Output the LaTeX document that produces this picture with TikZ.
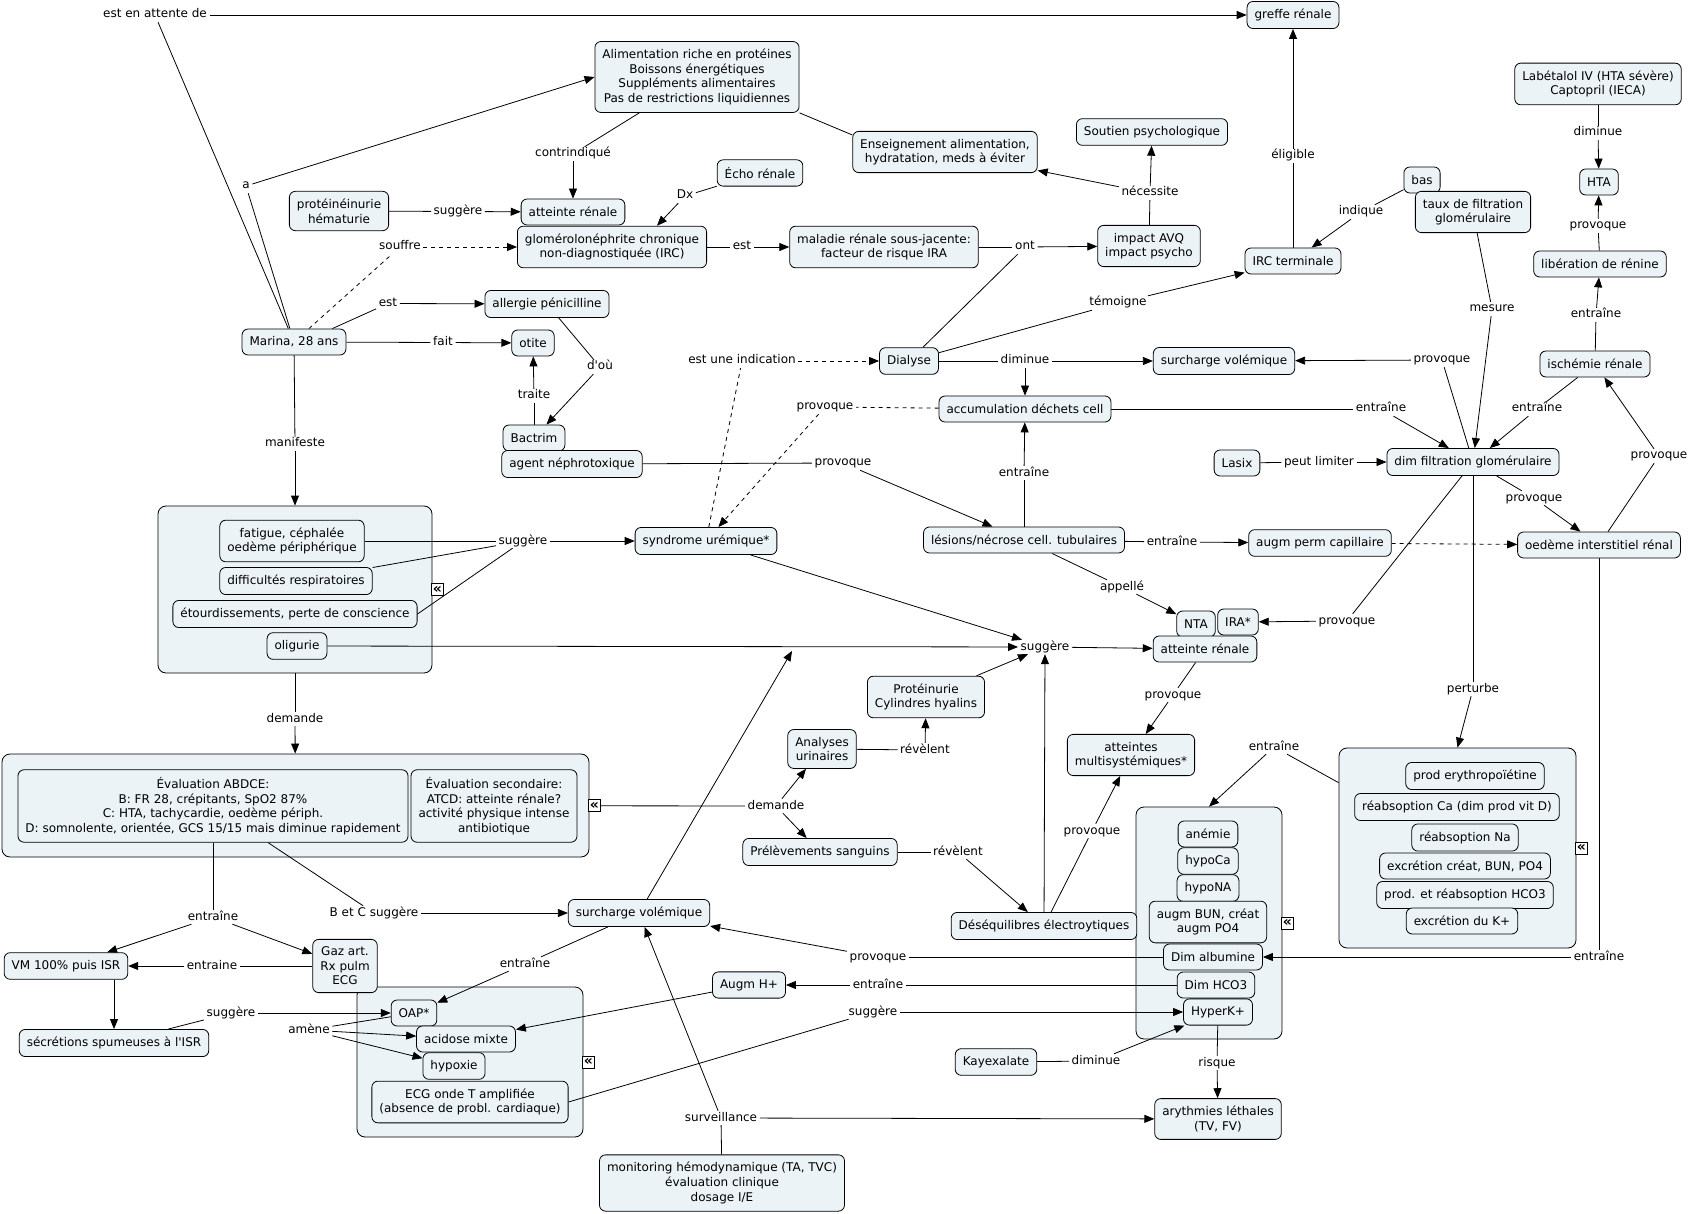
\documentclass[tikz,border=0pt]{standalone}
\usepackage{fontspec}
\setmainfont{DejaVu Sans}
\usetikzlibrary{arrows.meta,calc}
\definecolor{nfill}{RGB}{236,243,246}
\newcommand{\fsz}{\fontsize{12}{14.6}\selectfont}
\pgfdeclarelayer{background}
\pgfdeclarelayer{links}
\pgfsetlayers{background,links,main}
\begin{document}
\begin{tikzpicture}[x=1pt,y=-1pt,
  nd/.style={draw=black,line width=0.8pt,rounded corners=6pt,fill=nfill,inner xsep=7.5pt,inner ysep=7.5pt,minimum height=26pt,align=center,font=\fsz},
  grp/.style={draw=black,line width=0.8pt,rounded corners=8pt,fill=nfill,inner sep=0pt},
  lab/.style={inner xsep=2.5pt,inner ysep=1.5pt,text height=8.5pt,text depth=2.5pt,font=\fsz},
  ico/.style={draw=black,fill=white,line width=0.8pt,inner sep=0pt,minimum size=12pt,text height=7pt,text depth=0pt,font=\fontsize{14}{14}\selectfont\bfseries},
  ln/.style={draw=black,line width=0.8pt},
  arr/.style={ln,-{Triangle[length=10pt,width=8pt]}},
  dsh/.style={dash pattern=on 4pt off 4pt}]
\useasboundingbox (0,0) rectangle (1690,1214);
\begin{pgfonlayer}{background}
\fill[white] (0,0) rectangle (1690,1214);
\node[grp,minimum width=274pt,minimum height=167pt] (symbox) at (295,589.5) {};
\node[grp,minimum width=587pt,minimum height=103pt] (abdgroup) at (295.5,805.5) {};
\node[grp,minimum width=226pt,minimum height=150pt] (blgroup) at (470,1062) {};
\node[grp,minimum width=146pt,minimum height=232pt] (mgroup) at (1209,923) {};
\node[grp,minimum width=237pt,minimum height=200pt] (rgroup) at (1457.5,848) {};
\end{pgfonlayer}
% concept nodes
\node[nd] (greffe) at (1293,15) {greffe rénale};
\node[nd] (alim) at (697,77) {Alimentation riche en protéines\\Boissons énergétiques\\Suppléments alimentaires\\Pas de restrictions liquidiennes};
\node[nd] (ens) at (945,152) {Enseignement alimentation,\\hydratation, meds à éviter};
\node[nd] (soutien) at (1152,132) {Soutien psychologique};
\node[nd] (labet) at (1598,84) {Labétalol IV (HTA sévère)\\Captopril (IECA)};
\node[nd] (hta) at (1599,182) {HTA};
\node[nd] (prot) at (339,211) {protéinéinurie\\hématurie};
\node[nd] (atr1) at (573,212) {atteinte rénale};
\node[nd] (echo) at (760,173) {Écho rénale};
\node[nd] (glom) at (612,247) {glomérolonéphrite chronique\\non-diagnostiquée (IRC)};
\node[nd] (maladie) at (884,247) {maladie rénale sous-jacente:\\facteur de risque IRA};
\node[nd] (impact) at (1149,246) {impact AVQ\\impact psycho};
\node[nd] (bas) at (1422,180) {bas};
\node[nd] (taux) at (1473,212) {taux de filtration\\glomérulaire};
\node[nd] (irct) at (1293,261) {IRC terminale};
\node[nd] (liber) at (1600,264) {libération de rénine};
\node[nd] (allergie) at (547,304) {allergie pénicilline};
\node[nd] (marina) at (294,342) {Marina, 28 ans};
\node[nd] (otite) at (533,343) {otite};
\node[nd] (dialyse) at (909,361) {Dialyse};
\node[nd] (surch1) at (1224,361) {surcharge volémique};
\node[nd] (ischemie) at (1595,364) {ischémie rénale};
\node[nd] (accum) at (1025,409) {accumulation déchets cell};
\node[nd] (bactrim) at (534,438) {Bactrim};
\node[nd] (agent) at (572,464) {agent néphrotoxique};
\node[nd] (lasix) at (1237,463) {Lasix};
\node[nd] (dimfg) at (1473,462) {dim filtration glomérulaire};
\node[nd] (lesions) at (1024,540) {lésions/nécrose cell. tubulaires};
\node[nd] (augm) at (1320,543) {augm perm capillaire};
\node[nd] (oedeme) at (1599,545) {oedème interstitiel rénal};
\node[nd] (syndrome) at (706,541) {syndrome urémique*};
\node[nd] (fatigue) at (292,541) {fatigue, céphalée\\oedème périphérique};
\node[nd] (diffic) at (296,581) {difficultés respiratoires};
\node[nd] (etourd) at (295,614) {étourdissements, perte de conscience};
\node[nd] (olig) at (297,646) {oligurie};
\node[nd] (nta) at (1196,624) {NTA};
\node[nd] (ira) at (1238,622) {IRA*};
\node[nd] (atr2) at (1205,649) {atteinte rénale};
\node[nd] (protcyl) at (926,697) {Protéinurie\\Cylindres hyalins};
\node[nd] (analyses) at (822,749) {Analyses\\urinaires};
\node[nd] (multi) at (1131,755) {atteintes\\multisystémiques*};
\node[nd] (abdce) at (213,806) {Évaluation ABDCE:\\B: FR 28, crépitants, SpO2 87\%\\C: HTA, tachycardie, oedème périph.\\D: somnolente, orientée, GCS 15/15 mais diminue rapidement};
\node[nd] (evalsec) at (494,806) {Évaluation secondaire:\\ATCD: atteinte rénale?\\activité physique intense\\antibiotique};
\node[nd] (prel) at (820,852) {Prélèvements sanguins};
\node[nd] (epo) at (1475,776) {prod erythropoïétine};
\node[nd] (reabca) at (1457,807) {réabsoption Ca (dim prod vit D)};
\node[nd] (reabna) at (1465,837.5) {réabsoption Na};
\node[nd] (excr) at (1465,866) {excrétion créat, BUN, PO4};
\node[nd] (hcop) at (1465,895) {prod. et réabsoption HCO3};
\node[nd] (excrk) at (1462,921) {excrétion du K+};
\node[nd] (anemie) at (1208,834) {anémie};
\node[nd] (hypoca) at (1208,861) {hypoCa};
\node[nd] (hypona) at (1208,888) {hypoNA};
\node[nd] (bun) at (1208,922) {augm BUN, créat\\augm PO4};
\node[nd] (albu) at (1213,957) {Dim albumine};
\node[nd] (hco) at (1216,985) {Dim HCO3};
\node[nd] (hyperk) at (1218,1012) {HyperK+};
\node[nd] (deseq) at (1044,926) {Déséquilibres électroytiques};
\node[nd] (surch2) at (639,913) {surcharge volémique};
\node[nd] (vm) at (66,966) {VM 100\% puis ISR};
\node[nd] (gaz) at (345,966) {Gaz art.\\Rx pulm\\ECG};
\node[nd] (secr) at (114,1043) {sécrétions spumeuses à l\textquotesingle ISR};
\node[nd] (oap) at (414,1013) {OAP*};
\node[nd] (acid) at (466,1039) {acidose mixte};
\node[nd] (hypox) at (454,1066) {hypoxie};
\node[nd] (ecg) at (470,1102) {ECG onde T amplifiée\\(absence de probl. cardiaque)};
\node[nd] (augmh) at (749,985) {Augm H+};
\node[nd] (kayex) at (996,1062) {Kayexalate};
\node[nd] (arythm) at (1218,1119) {arythmies léthales\\(TV, FV)};
\node[nd] (monit) at (722,1183) {monitoring hémodynamique (TA, TVC)\\évaluation clinique\\dosage I/E};
% collapse icons
\node[ico] (ic1) at ([xshift=5pt]symbox.east) {«};
\node[ico] (ic2) at ([xshift=5pt]abdgroup.east) {«};
\node[ico] (ic3) at ([xshift=5pt]blgroup.east) {«};
\node[ico] (ic4) at ([xshift=5pt]mgroup.east) {«};
\node[ico] (ic5) at ([xshift=5pt]rgroup.east) {«};
% linking phrases
\node[lab] (Lattente) at (155,15) {est en attente de};
\node[lab] (La) at (246,186) {a};
\node[lab] (Lsugg1) at (458,211.5) {suggère};
\node[lab] (Lsouffre) at (400,247) {souffre};
\node[lab] (Lest1) at (388,303.5) {est};
\node[lab] (Lfait) at (443,342.5) {fait};
\node[lab] (Lmanif) at (295,444) {manifeste};
\node[lab] (Lcontr) at (573,154) {contrindiqué};
\node[lab] (Ldx) at (685,196) {Dx};
\node[lab] (Lest2) at (742,247) {est};
\node[lab] (Lont) at (1025,247) {ont};
\node[lab] (Lnec) at (1150,193) {nécessite};
\node[lab] (Lelig) at (1293,156) {éligible};
\node[lab] (Lindique) at (1361,212) {indique};
\node[lab] (Ltemoigne) at (1118,303) {témoigne};
\node[lab] (Ldim1) at (1025,361) {diminue};
\node[lab] (Lindic) at (742,361) {est une indication};
\node[lab] (Ldou) at (600,367) {d\textquotesingle où};
\node[lab] (Ltraite) at (534,396) {traite};
\node[lab] (Lprovd) at (825,407) {provoque};
\node[lab] (Lprovag) at (843,463) {provoque};
\node[lab] (Lentracc) at (1024,473) {entraîne};
\node[lab] (Lentrdim) at (1381,409) {entraîne};
\node[lab] (Lentrisch) at (1537,409) {entraîne};
\node[lab] (Lmesure) at (1492,309) {mesure};
\node[lab] (Lprovsurch) at (1442,360) {provoque};
\node[lab] (Ldimhta) at (1598,133) {diminue};
\node[lab] (Lprovhta) at (1598,226) {provoque};
\node[lab] (Lentrlib) at (1596,315) {entraîne};
\node[lab] (Lprovisch) at (1659,456) {provoque};
\node[lab] (Lpeut) at (1319,462) {peut limiter};
\node[lab] (Lprovoed) at (1534,498) {provoque};
\node[lab] (Lentraugm) at (1172,542) {entraîne};
\node[lab] (Lsuggsym) at (523,541) {suggère};
\node[lab] (Lappelle) at (1122,587) {appellé};
\node[lab] (Lprovira) at (1347,621) {provoque};
\node[lab] (Lhub) at (1045,647) {suggère};
\node[lab] (Lprovmulti) at (1173,695) {provoque};
\node[lab] (Lperturbe) at (1473,689) {perturbe};
\node[lab] (Ldem1) at (295,719) {demande};
\node[lab] (Lrevel1) at (925,750) {révèlent};
\node[lab] (Lentrmid) at (1274,747) {entraîne};
\node[lab] (Ldem2) at (776,806) {demande};
\node[lab] (Lrevel2) at (958,852) {révèlent};
\node[lab] (Lprovdesq) at (1092,831) {provoque};
\node[lab] (Lbetc) at (374,913) {B et C suggère};
\node[lab] (Lentrabd) at (213,917) {entraîne};
\node[lab] (Lentrgaz) at (212,966) {entraine};
\node[lab] (Lentrsurch) at (525,964) {entraîne};
\node[lab] (Lsuggoap) at (231,1013) {suggère};
\node[lab] (Lamene) at (309,1030) {amène};
\node[lab] (Lprovalb) at (878,957) {provoque};
\node[lab] (Lentrhco) at (878,985) {entraîne};
\node[lab] (Lsugghk) at (873,1012) {suggère};
\node[lab] (Lentroed) at (1599,957) {entraîne};
\node[lab] (Ldimkay) at (1096,1061) {diminue};
\node[lab] (Lrisque) at (1217,1063) {risque};
\node[lab] (Lsurv) at (721,1118) {surveillance};
\coordinate (surchtip) at (792,651);
% connectors
\begin{pgfonlayer}{links}
\draw[ln] (marina) -- (Lattente);
\draw[arr] (Lattente) -- (greffe);
\draw[ln] (marina) -- (La);
\draw[arr] (La) -- (alim.west);
\draw[ln] (prot) -- (Lsugg1);
\draw[arr] (Lsugg1) -- (atr1);
\draw[ln,dsh] (marina) -- (Lsouffre);
\draw[arr,dsh] (Lsouffre) -- (glom);
\draw[ln] ([xshift=-14pt]marina.north east) -- (Lest1);
\draw[arr] (Lest1) -- (allergie);
\draw[ln] (marina) -- (Lfait);
\draw[arr] (Lfait) -- (otite);
\draw[ln] (marina) -- (Lmanif);
\draw[arr] (Lmanif) -- (symbox);
\draw[ln] (alim) -- (Lcontr);
\draw[arr] (Lcontr) -- (atr1);
\draw[ln] (echo) -- (Ldx);
\draw[arr] (Ldx) -- ([xshift=-50pt]glom.north east);
\draw[ln] (glom) -- (Lest2);
\draw[arr] (Lest2) -- (maladie);
\draw[ln] (maladie) -- (Lont);
\draw[arr] (Lont) -- (impact);
\draw[ln] (dialyse) -- (Lont);
\draw[ln] (alim.south east) -- ([yshift=-4pt]ens.north west);
\draw[ln] (impact) -- (Lnec);
\draw[arr] (Lnec) -- (soutien);
\draw[arr] (Lnec) -- (ens);
\draw[ln] (dialyse) -- (Ltemoigne);
\draw[arr] (Ltemoigne) -- (irct);
\draw[ln] (irct) -- (Lelig);
\draw[arr] (Lelig) -- (greffe);
\draw[ln] (bas) -- (Lindique);
\draw[arr] (Lindique) -- (irct);
\draw[ln] (dialyse) -- (Ldim1);
\draw[arr] (Ldim1) -- (surch1);
\draw[arr] (Ldim1) -- (accum);
\draw[ln,dsh] (syndrome) -- (Lindic);
\draw[arr,dsh] (Lindic) -- (dialyse);
\draw[ln] (allergie) -- (Ldou);
\draw[arr] (Ldou) -- (bactrim);
\draw[ln] (bactrim) -- (Ltraite);
\draw[arr] (Ltraite) -- (otite);
\draw[ln,dsh] (accum) -- (Lprovd);
\draw[arr,dsh] (Lprovd) -- (syndrome);
\draw[ln] (agent) -- (Lprovag);
\draw[arr] (Lprovag) -- (lesions);
\draw[ln] (lesions) -- (Lentracc);
\draw[arr] (Lentracc) -- (accum);
\draw[ln] (accum) -- (Lentrdim);
\draw[arr] (Lentrdim) -- (dimfg);
\draw[ln] (ischemie) -- (Lentrisch);
\draw[arr] (Lentrisch) -- (dimfg);
\draw[ln] (taux) -- (Lmesure);
\draw[arr] (Lmesure) -- (dimfg);
\draw[ln] (dimfg) -- (Lprovsurch);
\draw[arr] (Lprovsurch) -- (surch1);
\draw[ln] (labet) -- (Ldimhta);
\draw[arr] (Ldimhta) -- (hta);
\draw[ln] (liber) -- (Lprovhta);
\draw[arr] (Lprovhta) -- (hta);
\draw[ln] (ischemie) -- (Lentrlib);
\draw[arr] (Lentrlib) -- (liber);
\draw[ln] (oedeme) -- (Lprovisch);
\draw[arr] (Lprovisch) -- (ischemie);
\draw[ln] (lasix) -- (Lpeut);
\draw[arr] (Lpeut) -- (dimfg);
\draw[ln] (dimfg) -- (Lprovoed);
\draw[arr] (Lprovoed) -- (oedeme);
\draw[arr,dsh] (augm) -- (oedeme);
\draw[ln] (lesions) -- (Lentraugm);
\draw[arr] (Lentraugm) -- (augm);
\draw[ln] (fatigue) -- (Lsuggsym);
\draw[ln] (diffic) -- (Lsuggsym);
\draw[ln] (etourd.east) -- (Lsuggsym);
\draw[arr] (Lsuggsym) -- (syndrome);
\draw[ln] (lesions) -- (Lappelle);
\draw[arr] (Lappelle) -- (nta);
\draw[ln] (dimfg) -- (Lprovira);
\draw[arr] (Lprovira) -- (ira);
\draw[arr] (Lhub) -- (atr2);
\draw[arr] (syndrome) -- (Lhub);
\draw[arr] (olig) -- (Lhub);
\draw[arr] (protcyl) -- (Lhub);
\draw[arr] (deseq) -- (Lhub);
\draw[arr] (surch2) -- (surchtip);
\draw[ln] (atr2) -- (Lprovmulti);
\draw[arr] (Lprovmulti) -- (multi);
\draw[ln] (dimfg) -- (Lperturbe);
\draw[arr] (Lperturbe) -- (rgroup.north);
\draw[ln] (symbox) -- (Ldem1);
\draw[arr] (Ldem1) -- (abdgroup);
\draw[ln] (analyses) -- (Lrevel1);
\draw[arr] (Lrevel1) -- (protcyl);
\draw[ln] (rgroup) -- (Lentrmid);
\draw[arr] (Lentrmid) -- (mgroup.north);
\draw[ln] (abdgroup) -- (Ldem2);
\draw[arr] (Ldem2) -- (analyses);
\draw[arr] (Ldem2) -- (prel);
\draw[ln] (prel) -- (Lrevel2);
\draw[arr] (Lrevel2) -- (deseq);
\draw[ln] (deseq) -- (Lprovdesq);
\draw[arr] (Lprovdesq) -- (multi);
\draw[ln] (abdce) -- (Lbetc);
\draw[arr] (Lbetc) -- (surch2);
\draw[ln] (abdce) -- (Lentrabd);
\draw[arr] (Lentrabd) -- (vm);
\draw[arr] (Lentrabd) -- (gaz);
\draw[ln] (gaz) -- (Lentrgaz);
\draw[arr] (Lentrgaz) -- (vm);
\draw[arr] (secr.north |- vm.south) -- (secr.north);
\draw[ln] (secr) -- (Lsuggoap);
\draw[arr] (Lsuggoap) -- (oap);
\draw[ln] (oap) -- (Lamene);
\draw[arr] (Lamene) -- (acid);
\draw[arr] (Lamene) -- (hypox);
\draw[ln] (surch2) -- (Lentrsurch);
\draw[arr] (Lentrsurch) -- (oap);
\draw[ln] (albu) -- (Lprovalb);
\draw[arr] (Lprovalb) -- (surch2);
\draw[ln] (hco) -- (Lentrhco);
\draw[arr] (Lentrhco) -- (augmh);
\draw[arr] (augmh) -- (acid);
\draw[ln] (ecg.east) -- (Lsugghk);
\draw[arr] (Lsugghk) -- (hyperk);
\draw[ln] (oedeme) -- (Lentroed);
\draw[arr] (Lentroed) -- (albu);
\draw[ln] (kayex) -- (Ldimkay);
\draw[arr] (Ldimkay) -- (hyperk);
\draw[ln] (hyperk) -- (Lrisque);
\draw[arr] (Lrisque) -- (arythm);
\draw[ln] (monit) -- (Lsurv);
\draw[arr] (Lsurv) -- (arythm);
\draw[arr] (Lsurv) -- (surch2);
\end{pgfonlayer}
\end{tikzpicture}
\end{document}
